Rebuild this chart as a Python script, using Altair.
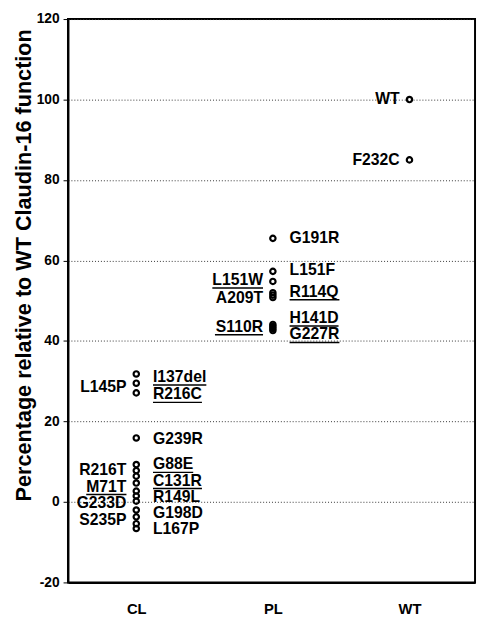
import altair as alt
import pandas as pd

# ---------------- data ----------------
groups = ["CL", "PL", "WT"]

cl_values = [31.8, 29.5, 27.1, 15.9, 9.3, 7.8, 6.4, 4.7, 2.7, 1.5, 0.2, -2.0, -3.7, -5.4, -6.6]
pl_values = [65.5, 57.3, 54.8, 52.0, 51.4, 50.8, 44.1, 43.6, 43.1, 42.6]
wt_values = [100.0, 85.0]

# labels: (text, group, value, underlined)
left_labels = [
    ("L145P", "CL", 28.6, False),
    ("R216T", "CL", 7.8, False),
    ("M71T", "CL", 3.8, True),
    ("G233D", "CL", -0.4, False),
    ("S235P", "CL", -4.6, False),
    ("L151W", "PL", 55.1, True),
    ("A209T", "PL", 50.6, False),
    ("S110R", "PL", 43.5, True),
    ("WT", "WT", 100.0, False),
    ("F232C", "WT", 85.0, False),
]
right_labels = [
    ("I137del", "CL", 31.0, True),
    ("R216C", "CL", 26.7, True),
    ("G239R", "CL", 15.7, False),
    ("G88E", "CL", 9.3, True),
    ("C131R", "CL", 5.3, True),
    ("R149L", "CL", 1.3, False),
    ("G198D", "CL", -2.7, False),
    ("L167P", "CL", -6.7, False),
    ("G191R", "PL", 65.6, False),
    ("L151F", "PL", 57.5, False),
    ("R114Q", "PL", 52.2, True),
    ("H141D", "PL", 45.7, True),
    ("G227R", "PL", 41.6, True),
]

y_title = "Percentage relative to WT Claudin-16 function"
y_ticks = [-20, 0, 20, 40, 60, 80, 100, 120]

# ---------------- layout / style ----------------
W, H = 414, 573
XMIN, XMAX = 0.5, 3.48
PXU = W / (XMAX - XMIN)
FONT = "Liberation Sans"
LABEL_SIZE = 16
LEFT_DX, RIGHT_DX = -10, 17

# Arial/Liberation Sans Bold advance widths (per 1000 em)
_adv = {"A": 722, "C": 722, "D": 722, "E": 667, "F": 611, "G": 778, "H": 722,
        "I": 278, "L": 611, "M": 833, "P": 667, "Q": 778, "R": 722, "S": 667,
        "T": 611, "W": 944, "d": 611, "e": 556, "l": 278}


def text_px(s):
    return sum(_adv.get(c, 556) for c in s) * LABEL_SIZE / 1000.0


idx = {g: i + 1 for i, g in enumerate(groups)}

pts = pd.DataFrame(
    [{"xi": idx["CL"], "v": v} for v in cl_values]
    + [{"xi": idx["PL"], "v": v} for v in pl_values]
    + [{"xi": idx["WT"], "v": v} for v in wt_values]
)
ldf = pd.DataFrame([{"xi": idx[g], "v": v, "t": t} for t, g, v, u in left_labels])
rdf = pd.DataFrame([{"xi": idx[g], "v": v, "t": t} for t, g, v, u in right_labels])

ul_rows = []
for t, g, v, u in left_labels:
    if u:
        w = text_px(t)
        ul_rows.append({"xi": idx[g] + (LEFT_DX - w) / PXU, "xe": idx[g] + LEFT_DX / PXU, "v": v})
for t, g, v, u in right_labels:
    if u:
        w = text_px(t)
        ul_rows.append({"xi": idx[g] + RIGHT_DX / PXU, "xe": idx[g] + (RIGHT_DX + w) / PXU, "v": v})
udf = pd.DataFrame(ul_rows)

label_expr = " : ".join(
    f"datum.value == {i + 1} ? '{g}'" for i, g in enumerate(groups)
) + " : ''"

xenc = alt.X(
    "xi:Q",
    scale=alt.Scale(domain=[XMIN, XMAX], nice=False, zero=False),
    axis=alt.Axis(values=[1, 2, 3], labelExpr=label_expr, title=None, grid=False,
                  tickSize=0, labelFont=FONT, labelFontSize=15, labelFontWeight="bold",
                  labelColor="black", labelPadding=20, domainColor="black", domainWidth=2),
)
yenc = alt.Y(
    "v:Q",
    scale=alt.Scale(domain=[-20, 120], nice=False, zero=False),
    axis=alt.Axis(values=y_ticks, labelExpr="datum.value + ''", title=y_title,
                  titleFont=FONT, titleFontSize=22,
                  titleFontWeight="bold", titleColor="black", titleX=-45, titleY=250,
                  titleBaseline="middle", titleAngle=270, titleAlign="center",
                  labelFont=FONT, labelFontSize=14, labelFontWeight="bold",
                  labelColor="black", labelPadding=4, tickSize=5, tickColor="black",
                  tickWidth=1, domainColor="black", domainWidth=2, grid=True,
                  gridDash=[1, 2], gridColor="#333333", gridWidth=1),
)

points = alt.Chart(pts).mark_point(
    shape="circle", filled=False, size=30, strokeWidth=2.2, color="black", opacity=1
).encode(x=xenc, y=yenc)

left_text = alt.Chart(ldf).mark_text(
    align="right", baseline="middle", dx=LEFT_DX, font=FONT, fontSize=LABEL_SIZE,
    fontWeight="bold", color="black"
).encode(x=xenc, y=yenc, text="t:N")

right_text = alt.Chart(rdf).mark_text(
    align="left", baseline="middle", dx=RIGHT_DX, font=FONT, fontSize=LABEL_SIZE,
    fontWeight="bold", color="black"
).encode(x=xenc, y=yenc, text="t:N")

underlines = alt.Chart(udf).mark_rule(
    color="black", strokeWidth=1.5, yOffset=8
).encode(x=xenc, x2="xe:Q", y=yenc)

chart = (
    alt.layer(points, underlines, left_text, right_text)
    .properties(width=W, height=H, autosize=alt.AutoSizeParams(type="none"),
                padding={"left": 61, "top": 6, "right": 2, "bottom": 34})
    .configure_view(stroke="black", strokeWidth=2)
)

chart.save("out.html", embed_options={"renderer": "svg", "actions": False})
